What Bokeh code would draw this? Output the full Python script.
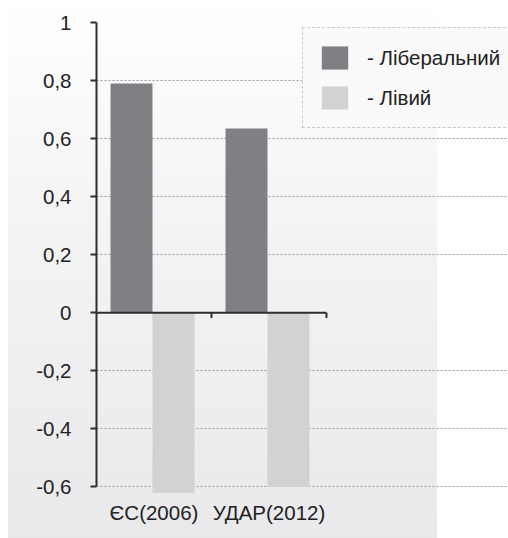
from bokeh.plotting import figure
from bokeh.models import FixedTicker, Range1d, Legend, LegendItem
from bokeh.embed import file_html
from bokeh.resources import INLINE

# ---- data ----
categories = ["ЄС(2006)", "УДАР(2012)"]
liberal = [0.79, 0.635]
leftist = [-0.62, -0.60]
series_names = ["- Ліберальний", "- Лівий"]
yticks = [-0.6, -0.4, -0.2, 0.0, 0.2, 0.4, 0.6, 0.8, 1.0]
ytick_labels = ["-0,6", "-0,4", "-0,2", "0", "0,2", "0,4", "0,6", "0,8", "1"]

FONT = "Liberation Sans"
FSIZE = "20.5px"
DARK = "#7f8084"
LIGHT = "#d1d2d4"
AXIS = "#2e2e2e"

n = len(categories)
centers = [i + 0.5 for i in range(n)]
bar_w = 0.365
shift = -0.013

p = figure(width=508, height=538,
           x_range=Range1d(0, 3.583), y_range=Range1d(-0.64, 1.0),
           output_backend="svg", toolbar_location=None,
           min_border_left=96, min_border_right=0,
           min_border_top=22, min_border_bottom=40)

p.background_fill_color = None
p.border_fill_color = None
p.outline_line_color = None
p.styles = {
    "background-image": "linear-gradient(to bottom, #ffffff 0%, #f4f4f5 40%, #e9e9eb 100%)",
    "background-repeat": "no-repeat",
    "background-position": "8px 0px",
    "background-size": "429px 100%",
}

# grid
p.xgrid.visible = False
p.ygrid.ticker = FixedTicker(ticks=[t for t in yticks if t != 0])
p.ygrid.bounds = (0.096, 2.58)
p.ygrid.grid_line_color = "#9a9a9a"
p.ygrid.grid_line_dash = "2 2"
p.ygrid.grid_line_width = 1

# bars
x_lib = [c + shift - bar_w / 2 for c in centers]
x_left = [c + shift + bar_w / 2 for c in centers]
r_lib = p.vbar(x=x_lib, top=liberal, bottom=0, width=bar_w,
               fill_color=DARK, line_color=None)
r_left = p.vbar(x=x_left, top=leftist, bottom=0, width=bar_w,
                fill_color=LIGHT, line_color=None)

# zero line with category-boundary ticks
p.segment(x0=[0], y0=[0], x1=[n], y1=[0], line_color=AXIS, line_width=2)
bx = list(range(1, n + 1))
p.segment(x0=bx, y0=[0] * n, x1=bx, y1=[-0.018] * n, line_color=AXIS, line_width=2)

# y axis
yax = p.yaxis[0]
yax.ticker = FixedTicker(ticks=yticks)
yax.major_label_overrides = {t: l for t, l in zip(yticks, ytick_labels)}
yax.bounds = (yticks[0], yticks[-1])
yax.axis_line_color = AXIS
yax.axis_line_width = 2
yax.major_tick_line_color = AXIS
yax.major_tick_line_width = 2
yax.major_tick_out = 6
yax.major_tick_in = 0
yax.minor_tick_line_color = None
yax.major_label_standoff = 19
yax.major_label_text_font = FONT
yax.major_label_text_font_size = FSIZE
yax.major_label_text_color = "#222222"

# x axis (labels only)
xax = p.xaxis[0]
xax.ticker = FixedTicker(ticks=centers)
xax.major_label_overrides = {c: l for c, l in zip(centers, categories)}
xax.axis_line_color = None
xax.major_tick_line_color = None
xax.minor_tick_line_color = None
xax.major_tick_out = 0
xax.major_tick_in = 0
xax.major_label_standoff = 2
xax.major_label_text_font = FONT
xax.major_label_text_font_size = FSIZE
xax.major_label_text_color = "#222222"

# legend
legend = Legend(items=[LegendItem(label=series_names[0], renderers=[r_lib]),
                       LegendItem(label=series_names[1], renderers=[r_left])],
                location=(206, 370))
legend.margin = 0
legend.padding = 15
legend.spacing = 11
legend.glyph_width = 33
legend.glyph_height = 29
legend.label_height = 29
legend.label_standoff = 16
legend.label_text_font = FONT
legend.label_text_font_size = FSIZE
legend.label_text_color = "#222222"
legend.border_line_color = "#999999"
legend.border_line_dash = "2 2"
legend.border_line_width = 1
legend.background_fill_color = "#fafafa"
legend.background_fill_alpha = 1.0
p.add_layout(legend)

open("out.html", "w").write(file_html(p, INLINE))
